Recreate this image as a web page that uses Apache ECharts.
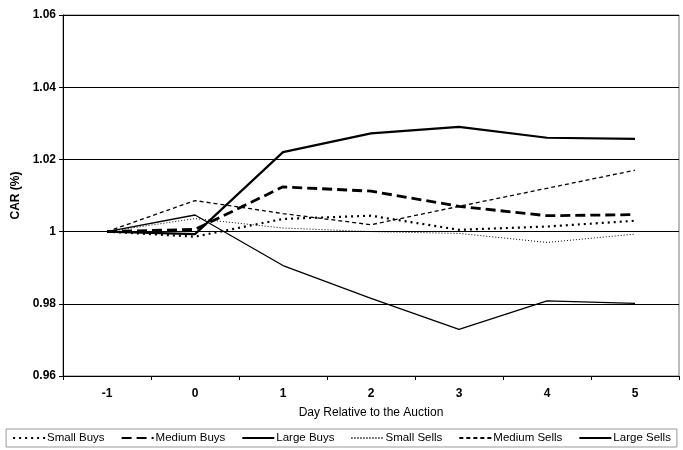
<!DOCTYPE html>
<html><head><meta charset="utf-8">
<script src="https://cdn.jsdelivr.net/npm/echarts@6/dist/echarts.min.js"></script>
<style>html,body{margin:0;padding:0;background:#fff}#c{width:683px;height:450px}</style>
</head><body><div id="c"></div>
<script>
const days = ['-1', '0', '1', '2', '3', '4', '5'];
const smallBuys = [1.0, 0.9986, 1.0035, 1.0044, 1.0005, 1.0014, 1.003];
const mediumBuys = [1.0, 1.0006, 1.0124, 1.0112, 1.007, 1.0044, 1.0047];
const largeBuys = [1.0, 0.9993, 1.022, 1.0272, 1.029, 1.026, 1.0257];
const smallSells = [1.0, 1.0036, 1.001, 1.0, 0.9995, 0.997, 0.9993];
const mediumSells = [1.0, 1.0086, 1.005, 1.0019, 1.007, 1.012, 1.017];
const largeSells = [1.0, 1.0046, 0.9906, 0.9815, 0.9729, 0.9808, 0.9801];
const yTicks = {min: 0.96, max: 1.06, step: 0.02};

const font = 'Liberation Sans, Arial, sans-serif';
function ser(name, data, width, type) {
  return {name, type: 'line', data, symbol: 'none', smooth: false,
    lineStyle: {color: '#000', width, type}, itemStyle: {color: '#000'}};
}
const chart = echarts.init(document.getElementById('c'), null, {renderer: 'canvas'});
chart.setOption({
  animation: false,
  backgroundColor: '#fff',
  grid: {left: 63, right: 4, top: 15, bottom: 74, show: true, borderColor: '#777', borderWidth: 1},
  legend: {
    bottom: 3, left: 'center', itemWidth: 32, itemHeight: 10, itemGap: 16,
    borderColor: '#999', borderWidth: 1, padding: [3, 6, 3, 6],
    itemStyle: {opacity: 0},
    textStyle: {fontFamily: font, fontSize: 11.5, color: '#000', padding: [0, 0, 0, -3]},
    data: ['Small Buys', 'Medium Buys', 'Large Buys', 'Small Sells', 'Medium Sells', 'Large Sells']
  },
  xAxis: {
    type: 'category', data: days, boundaryGap: true,
    name: 'Day Relative to the Auction', nameLocation: 'middle', nameGap: 31,
    nameTextStyle: {fontFamily: font, fontSize: 12, color: '#000'},
    axisLine: {lineStyle: {color: '#000', width: 1}},
    axisTick: {show: true, length: 4, lineStyle: {color: '#000'}},
    axisLabel: {fontFamily: font, fontSize: 12, fontWeight: 'bold', color: '#000', margin: 12}
  },
  yAxis: {
    type: 'value', min: yTicks.min, max: yTicks.max, interval: yTicks.step,
    name: 'CAR (%)', nameLocation: 'middle', nameGap: 38, nameRotate: 90,
    nameTextStyle: {fontFamily: font, fontSize: 12, fontWeight: 'bold', color: '#000'},
    axisLine: {show: true, lineStyle: {color: '#000', width: 1}},
    axisTick: {show: true, length: 4, lineStyle: {color: '#000'}},
    splitLine: {show: true, lineStyle: {color: '#000', width: 1}},
    axisLabel: {fontFamily: font, fontSize: 12, fontWeight: 'bold', color: '#000', margin: 7,
      formatter: v => String(parseFloat(v.toFixed(2)))}
  },
  series: [
    ser('Small Buys', smallBuys, 2.2, [2, 4]),
    ser('Medium Buys', mediumBuys, 2.8, [10, 5]),
    ser('Large Buys', largeBuys, 2.2, 'solid'),
    ser('Small Sells', smallSells, 1, [1, 2]),
    ser('Medium Sells', mediumSells, 1.3, [4, 3]),
    ser('Large Sells', largeSells, 1.3, 'solid')
  ]
});
</script></body></html>
